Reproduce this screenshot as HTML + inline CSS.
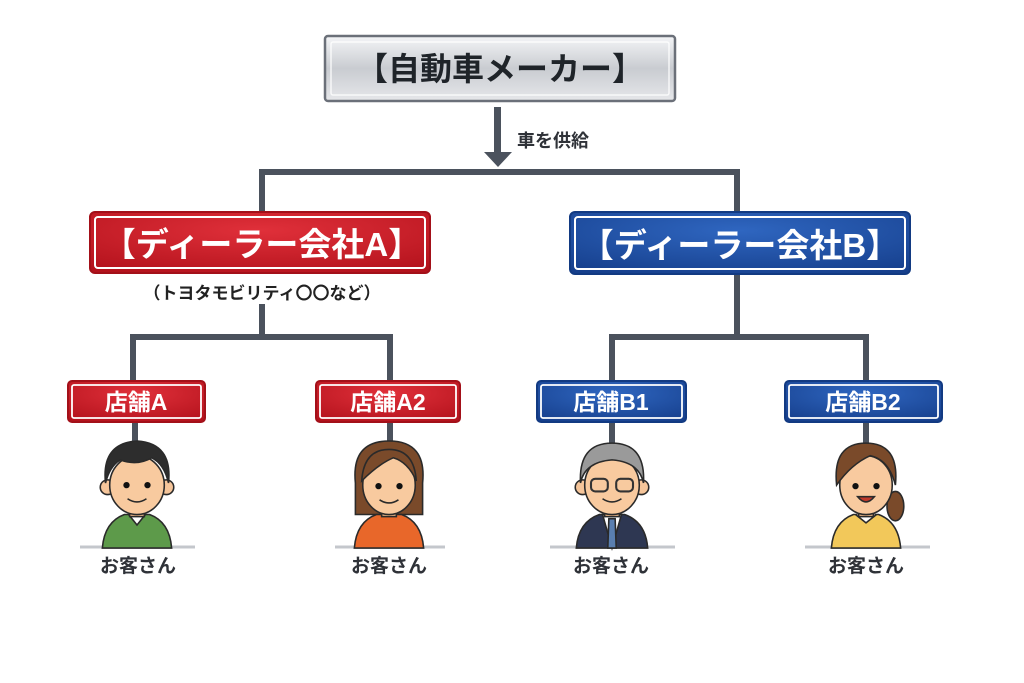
<!DOCTYPE html>
<html><head><meta charset="utf-8"><style>
html,body{margin:0;padding:0;background:#fff;}
svg{display:block}
text{font-family:"Liberation Sans","Noto Sans CJK JP",sans-serif;font-weight:bold}
</style></head><body>
<svg width="1024" height="683" viewBox="0 0 1024 683" xmlns="http://www.w3.org/2000/svg">
<defs>
<linearGradient id="silver" x1="0" y1="0" x2="0" y2="1">
<stop offset="0" stop-color="#f4f5f7"/><stop offset="0.5" stop-color="#c9ccd1"/><stop offset="1" stop-color="#e6e7ea"/>
</linearGradient>
<radialGradient id="red" cx="0.5" cy="0.3" r="0.8">
<stop offset="0" stop-color="#e0303a"/><stop offset="1" stop-color="#b3121c"/>
</radialGradient>
<radialGradient id="blue" cx="0.5" cy="0.3" r="0.8">
<stop offset="0" stop-color="#2f66c0"/><stop offset="1" stop-color="#163f8c"/>
</radialGradient>
</defs>
<g fill="none" stroke="#4b525d" stroke-width="6">
<path d="M262 212 V172 H737 V212"/>
<path d="M262 304 V337 H133 V381"/>
<path d="M262 337 H390 V381"/>
<path d="M737 274 V337 H612 V381"/>
<path d="M737 337 H866 V381"/>
<path d="M135 422 V446 M390 422 V446 M612 422 V446 M866 422 V446"/>
</g>
<rect x="494" y="107" width="7" height="47" fill="#4b525d"/>
<polygon points="484,152 512,152 498,167" fill="#4b525d"/>
<text x="517" y="147" font-size="18" fill="#2f3238">車を供給</text>

<rect x="325" y="36" width="350" height="65" rx="3" fill="url(#silver)" stroke="#6b7079" stroke-width="2.5"/>
<rect x="331" y="42" width="338" height="53" rx="2" fill="none" stroke="#fff" stroke-width="1.5" opacity="0.8"/>
<text x="500" y="80" font-size="32" fill="#1f2429" text-anchor="middle">【自動車メーカー】</text>

<rect x="90" y="212" width="340" height="61" rx="5" fill="url(#red)" stroke="#a31019" stroke-width="2"/>
<rect x="95" y="217" width="330" height="51" rx="3" fill="none" stroke="#fff" stroke-width="2"/>
<text x="262" y="256" font-size="33" fill="#fff" text-anchor="middle">【ディーラー会社A】</text>
<text x="262" y="299" font-size="17" fill="#222" text-anchor="middle" font-weight="normal">（トヨタモビリティ〇〇など）</text>

<rect x="570" y="212" width="340" height="62" rx="5" fill="url(#blue)" stroke="#123a82" stroke-width="2"/>
<rect x="575" y="217" width="330" height="52" rx="3" fill="none" stroke="#fff" stroke-width="2"/>
<text x="740" y="257" font-size="33" fill="#fff" text-anchor="middle">【ディーラー会社B】</text>

<g font-size="23" fill="#fff" text-anchor="middle">
<rect x="68" y="381" width="137" height="41" rx="4" fill="url(#red)" stroke="#a31019" stroke-width="2"/>
<rect x="72" y="385" width="129" height="33" rx="2" fill="none" stroke="#fff" stroke-width="1.8"/>
<text x="136" y="410">店舗A</text>
<rect x="316" y="381" width="144" height="41" rx="4" fill="url(#red)" stroke="#a31019" stroke-width="2"/>
<rect x="320" y="385" width="136" height="33" rx="2" fill="none" stroke="#fff" stroke-width="1.8"/>
<text x="388" y="410">店舗A2</text>
<rect x="537" y="381" width="149" height="41" rx="4" fill="url(#blue)" stroke="#123a82" stroke-width="2"/>
<rect x="541" y="385" width="141" height="33" rx="2" fill="none" stroke="#fff" stroke-width="1.8"/>
<text x="611" y="410">店舗B1</text>
<rect x="785" y="381" width="157" height="41" rx="4" fill="url(#blue)" stroke="#123a82" stroke-width="2"/>
<rect x="789" y="385" width="149" height="33" rx="2" fill="none" stroke="#fff" stroke-width="1.8"/>
<text x="863" y="410">店舗B2</text>
</g>

<g stroke="#c4c7cc" stroke-width="3">
<line x1="80" y1="547" x2="195" y2="547"/>
<line x1="335" y1="547" x2="445" y2="547"/>
<line x1="550" y1="547" x2="675" y2="547"/>
<line x1="805" y1="547" x2="930" y2="547"/>
</g>

<g transform="translate(137,441) scale(1.05)" stroke="#2a2a2a" stroke-width="1.5">
<path d="M-33 102 Q-31 77 -12 70 L12 70 Q31 77 33 102 Z" fill="#5d9a4a"/>
<path d="M-8 70 L0 80 L8 70" fill="#fff"/>
<rect x="-7" y="60" width="14" height="12" fill="#f0b988"/>
<circle cx="-28" cy="44" r="7" fill="#f5c59a"/><circle cx="28" cy="44" r="7" fill="#f5c59a"/>
<ellipse cx="0" cy="42" rx="26" ry="28" fill="#f8ca9f"/>
<path d="M-30 40 Q-34 2 0 0 Q34 2 30 40 Q26 22 14 16 Q0 24 -16 18 Q-26 24 -30 40 Z" fill="#2d2d2d"/>
<circle cx="-10" cy="42" r="3" fill="#111" stroke="none"/><circle cx="10" cy="42" r="3" fill="#111" stroke="none"/>
<path d="M-9 55 Q0 61 9 55" fill="none"/>
</g>
<g transform="translate(389,441) scale(1.05)" stroke="#2a2a2a" stroke-width="1.5">
<path d="M-32 40 Q-36 0 0 0 Q36 0 32 40 L32 70 L-32 70 Z" fill="#7a4a2a"/>
<path d="M-33 102 Q-31 77 -12 70 L12 70 Q31 77 33 102 Z" fill="#e8672a"/>
<rect x="-7" y="60" width="14" height="12" fill="#f0b988"/>
<ellipse cx="0" cy="42" rx="25" ry="28" fill="#f8ca9f"/>
<path d="M-26 38 Q-24 8 0 8 Q24 8 26 38 Q18 20 4 16 Q-10 22 -26 38 Z" fill="#7a4a2a"/>
<circle cx="-10" cy="43" r="3" fill="#111" stroke="none"/><circle cx="10" cy="43" r="3" fill="#111" stroke="none"/>
<path d="M-9 56 Q0 62 9 56" fill="none"/>
</g>
<g transform="translate(612,441) scale(1.05)" stroke="#2a2a2a" stroke-width="1.5">
<path d="M-34 102 Q-32 77 -12 70 L12 70 Q32 77 34 102 Z" fill="#2e3752"/>
<path d="M-9 70 L0 102 L9 70 Z" fill="#fff"/>
<path d="M-3 74 L3 74 L4 102 L-4 102 Z" fill="#5a7fb0"/>
<rect x="-7" y="60" width="14" height="12" fill="#f0b988"/>
<circle cx="-28" cy="44" r="7" fill="#f5c59a"/><circle cx="28" cy="44" r="7" fill="#f5c59a"/>
<ellipse cx="0" cy="42" rx="26" ry="28" fill="#f8ca9f"/>
<path d="M-30 40 Q-32 2 0 2 Q32 2 30 40 Q26 20 0 18 Q-26 20 -30 40 Z" fill="#9a9a9a"/>
<rect x="-20" y="36" width="16" height="12" rx="4" fill="none" stroke="#333" stroke-width="2"/>
<rect x="4" y="36" width="16" height="12" rx="4" fill="none" stroke="#333" stroke-width="2"/>
<path d="M-9 55 Q0 61 9 55" fill="none"/>
</g>
<g transform="translate(866,441) scale(1.05)" stroke="#2a2a2a" stroke-width="1.5">
<ellipse cx="28" cy="62" rx="8" ry="14" fill="#7a4a2a"/>
<path d="M-33 102 Q-31 77 -12 70 L12 70 Q31 77 33 102 Z" fill="#f2c85a"/>
<path d="M-10 70 L0 78 L10 70" fill="#fff"/>
<rect x="-7" y="60" width="14" height="12" fill="#f0b988"/>
<ellipse cx="0" cy="42" rx="25" ry="28" fill="#f8ca9f"/>
<path d="M-28 42 Q-32 2 0 2 Q32 2 28 42 Q22 18 4 14 Q-14 22 -28 42 Z" fill="#7a4a2a"/>
<circle cx="-10" cy="43" r="3" fill="#111" stroke="none"/><circle cx="10" cy="43" r="3" fill="#111" stroke="none"/>
<path d="M-8 53 Q0 63 8 53 Z" fill="#c0392b"/>
</g>

<g font-size="19" fill="#2f3238" text-anchor="middle">
<text x="138" y="572">お客さん</text>
<text x="389" y="572">お客さん</text>
<text x="611" y="572">お客さん</text>
<text x="866" y="572">お客さん</text>
</g>
</svg>
</body></html>
